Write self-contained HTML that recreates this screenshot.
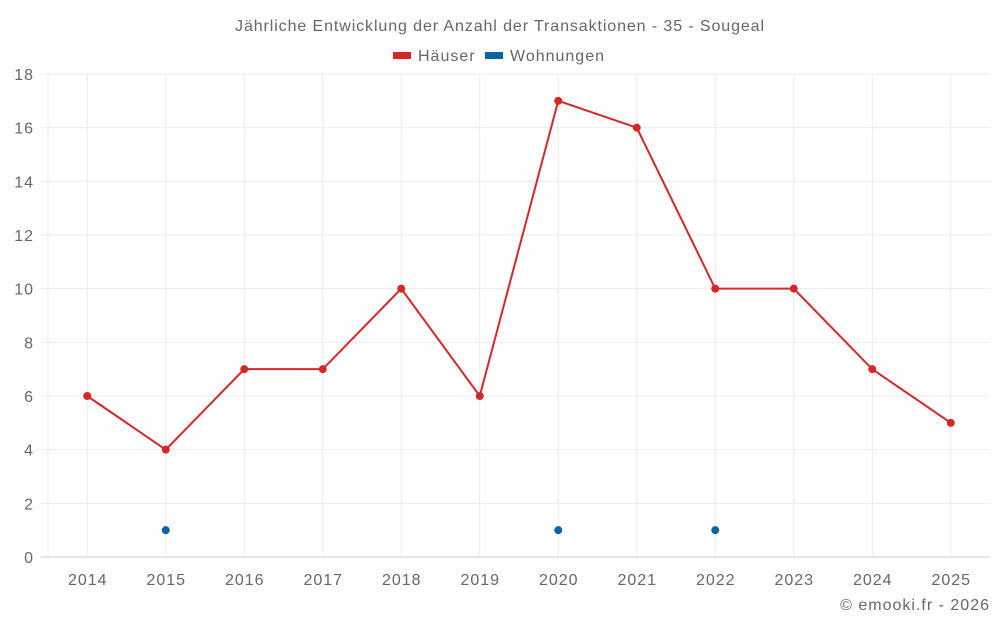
<!DOCTYPE html>
<html><head><meta charset="utf-8"><style>
body{margin:0;background:#fff;font-family:"Liberation Sans",sans-serif;}
svg text{font-family:"Liberation Sans",sans-serif;fill:#666;letter-spacing:1px;}
</style></head><body>
<svg id="chart" width="1000" height="625" xmlns="http://www.w3.org/2000/svg">
<text x="500" y="31" text-anchor="middle" font-size="16" style="letter-spacing:0.9px">Jährliche Entwicklung der Anzahl der Transaktionen - 35 - Sougeal</text>
<g>
<rect x="393" y="52" width="18" height="7" fill="#d62728"/>
<text x="418" y="61" font-size="16">Häuser</text>
<rect x="485" y="52" width="18" height="7" fill="#08649e"/>
<text x="510" y="61" font-size="16">Wohnungen</text>
</g>
<g id="grid"></g><g id="axes"></g><g id="series"></g>
<text x="990" y="610" text-anchor="end" font-size="16">© emooki.fr - 2026</text>
</svg>
<script>
const years=["2014","2015","2016","2017","2018","2019","2020","2021","2022","2023","2024","2025"];
const haeuser=[6,4,7,7,10,6,17,16,10,10,7,5];
const wohnungen=[null,1,null,null,null,null,1,null,1,null,null,null];
const yTicks=[0,2,4,6,8,10,12,14,16,18];
const NS="http://www.w3.org/2000/svg";
const L=48,R=990,T=74,B=557,yMax=18;
const bw=(R-L)/years.length;
const xs=i=>L+bw*(i+0.5);
const ys=v=>B-(v/yMax)*(B-T);
function mk(tag,attrs,parent){const e=document.createElementNS(NS,tag);for(const k in attrs)e.setAttribute(k,attrs[k]);document.getElementById(parent).appendChild(e);return e;}
yTicks.forEach(v=>{
 const l=mk('line',{x1:41,x2:R,y1:ys(v),y2:ys(v),stroke:v===0?'#ccc':'#ebebeb','stroke-width':1},'grid');
 
 
 const t=mk('text',{x:34,y:ys(v)+6,'text-anchor':'end','font-size':16},'axes');t.textContent=v;
 
 
});
const l0=mk('line',{x1:L,x2:L,y1:T,y2:B,stroke:'#ebebeb'},'grid');


years.forEach((y,i)=>{
 const l=mk('line',{x1:xs(i),x2:xs(i),y1:T,y2:B,stroke:'#ebebeb'},'grid');
 
 
 const t=mk('text',{x:xs(i)+0.5,y:585,'text-anchor':'middle','font-size':16},'axes');t.textContent=y;
 
 
});
const pl=mk('polyline',{points:haeuser.map((v,i)=>xs(i)+','+ys(v)).join(' '),fill:'none',stroke:'#d62728','stroke-width':2},'series');


haeuser.forEach((v,i)=>{
 const c=mk('circle',{cx:xs(i),cy:ys(v),r:4,fill:'#d62728'},'series');
 
 
});
wohnungen.forEach((v,i)=>{
 if(v===null)return;
 const c=mk('circle',{cx:xs(i),cy:ys(v),r:4,fill:'#08649e'},'series');
 
 
});
</script>
</body></html>
